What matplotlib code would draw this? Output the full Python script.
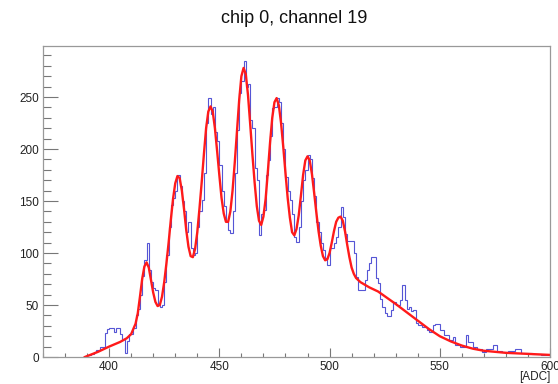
import numpy as np
import matplotlib
matplotlib.use("Agg")
import matplotlib.pyplot as plt
from matplotlib.ticker import MultipleLocator

plt.rcParams["font.family"] = ["Liberation Sans", "DejaVu Sans"]

# histogram: 1 ADC bins, first bin starts at 388
FIRST_BIN = 388
counts = [
    0, 1, 2, 2, 3, 5, 7, 7, 10, 10,            # 388-397
    23, 27, 28, 28, 24, 28, 28, 22, 17, 4,     # 398-407
    15, 22, 22, 28, 40, 46, 60, 78, 93, 110,   # 408-417
    84, 72, 66, 64, 50, 48, 50, 72, 98, 125,   # 418-427
    146, 153, 160, 175, 164, 150, 140, 120, 130, 105,  # 428-437
    98, 100, 125, 140, 151, 177, 225, 249, 234, 240,   # 438-447
    216, 208, 185, 160, 145, 130, 122, 119, 140, 177,  # 448-457
    218, 254, 265, 285, 260, 263, 228, 220, 182, 170,  # 458-467
    117, 138, 141, 175, 189, 213, 239, 240, 249, 245,  # 468-477
    225, 200, 173, 160, 151, 138, 115, 111, 125, 150,  # 478-487
    170, 180, 194, 190, 172, 155, 130, 120, 110, 103,  # 488-497
    95, 88, 105, 105, 110, 115, 125, 144, 135, 118,    # 498-507
    112, 112, 112, 100, 77, 64, 64, 64, 74, 84,        # 508-517
    90, 96, 96, 76, 71, 56, 48, 42, 39, 39,            # 518-527
    45, 53, 50, 50, 55, 69, 55, 46, 48, 44,            # 528-537
    45, 33, 31, 31, 29, 29, 26, 24, 24, 31,            # 538-547
    32, 32, 26, 26, 21, 21, 16, 16, 19, 12,            # 548-557
    12, 10, 10, 10, 21, 14, 14, 10, 10, 8,             # 558-567
    8, 5, 5, 8, 8, 8, 12, 12, 6, 6,                    # 568-577
    5, 5, 5, 6, 6, 6, 8, 8, 8, 4,                      # 578-587
    4, 4, 4, 4, 3, 3, 3, 3, 2, 2,                      # 588-597
    2, 2,                                              # 598-599
]

# fitted curve
fit_x = [389, 395, 400, 405, 408, 410, 412, 413, 414, 415, 416, 417, 418, 419,
         420, 421, 422, 423, 424, 425, 426, 427, 428, 429, 430, 431, 432, 433,
         434, 435, 436, 437, 438, 439, 440, 441, 442, 443, 444, 445, 446, 447,
         448, 449, 450, 451, 452, 453, 454, 455, 456, 457, 458, 459, 460, 461,
         462, 463, 464, 465, 466, 467, 468, 469, 470, 471, 472, 473, 474, 475,
         476, 477, 478, 479, 480, 481, 482, 483, 484, 485, 486, 487, 488, 489,
         490, 491, 492, 493, 494, 495, 496, 497, 498, 499, 500, 501, 502, 503,
         504, 505, 506, 507, 508, 509, 510, 511, 512, 514, 518, 522, 526, 530,
         535, 540, 545, 550, 555, 560, 565, 570, 575, 580, 590, 600]
fit_y = [0, 5, 10, 14.5, 18, 22, 32, 42, 58, 75, 87, 91, 86, 74,
         62, 53, 49, 50, 58, 72, 90, 110, 132, 152, 167, 174, 172, 160,
         142, 122, 106, 97, 96, 104, 120, 143, 168, 195, 220, 236, 241, 236,
         220, 198, 175, 153, 138, 130, 130, 140, 160, 187, 217, 247, 270, 278,
         272, 252, 224, 195, 168, 145, 131, 127, 135, 152, 178, 206, 230, 245,
         249, 242, 225, 202, 177, 153, 134, 120, 117, 123, 136, 155, 175, 189,
         193, 189, 176, 158, 139, 121, 107, 97, 93, 94, 100, 110, 121, 130,
         134, 135, 131, 121, 108, 96, 86, 80, 76, 72, 67, 63, 57, 51,
         43, 35, 27, 20, 15, 11, 8, 6, 5, 4, 3, 2]

edges = np.arange(FIRST_BIN, FIRST_BIN + len(counts) + 1)

fig = plt.figure(figsize=(5.58, 3.84), dpi=100)
ax = fig.add_axes([0.077, 0.0703, 0.9087, 0.8097])

ax.stairs(counts, edges, color="#5555d5", lw=0.8)
ax.plot(fit_x, fit_y, color="#ff1a1a", lw=1.7)

ax.set_xlim(370, 600)
ax.set_ylim(0, 299)

ax.xaxis.set_major_locator(MultipleLocator(50))
ax.xaxis.set_minor_locator(MultipleLocator(10))
ax.yaxis.set_major_locator(MultipleLocator(50))
ax.yaxis.set_minor_locator(MultipleLocator(10))
ax.tick_params(axis="both", which="both", direction="in", colors="#777777",
               labelcolor="#222222", labelsize=8.5, width=0.8)
ax.tick_params(axis="y", which="major", length=11, pad=3)
ax.tick_params(axis="y", which="minor", length=5.5)
ax.tick_params(axis="x", which="major", length=6.5, pad=3)
ax.tick_params(axis="x", which="minor", length=3)
for s in ax.spines.values():
    s.set_color("#999999")
    s.set_linewidth(0.9)

fig.text(0.527, 0.953, "chip 0, channel 19", ha="center", va="center",
         fontsize=13, color="#111111")
fig.text(0.9857, 0.018, "[ADC]", ha="right", va="center", fontsize=8.5,
         color="#222222")

fig.savefig("out.png", dpi=100, facecolor="white")
